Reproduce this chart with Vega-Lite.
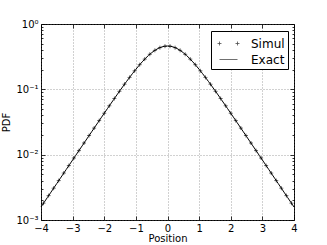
{
  "$schema": "https://vega.github.io/schema/vega-lite/v6.json",
  "width": 253,
  "height": 196,
  "autosize": {"type": "none"},
  "padding": {"left": 41, "top": 24, "right": 33, "bottom": 25},
  "background": "white",
  "config": {
    "view": {"stroke": "black", "strokeWidth": 1},
    "font": "DejaVu Sans",
    "axis": {
      "domain": false,
      "labelFont": "DejaVu Sans",
      "labelFontSize": 10,
      "labelColor": "black",
      "titleFont": "DejaVu Sans",
      "titleFontSize": 10,
      "titleFontWeight": "normal",
      "titleColor": "black",
      "tickColor": "black",
      "tickWidth": 0.8,
      "gridColor": "#666666",
      "gridDash": [1, 2],
      "gridWidth": 0.6
    }
  },
  "datasets": {
    "exact": [
      {"x": -4.0, "pdf": 0.001581, "series": "Exact"},
      {"x": -3.9, "pdf": 0.001866, "series": "Exact"},
      {"x": -3.8, "pdf": 0.002202, "series": "Exact"},
      {"x": -3.7, "pdf": 0.002599, "series": "Exact"},
      {"x": -3.6, "pdf": 0.003067, "series": "Exact"},
      {"x": -3.5, "pdf": 0.003621, "series": "Exact"},
      {"x": -3.4, "pdf": 0.004272, "series": "Exact"},
      {"x": -3.3, "pdf": 0.005043, "series": "Exact"},
      {"x": -3.2, "pdf": 0.005952, "series": "Exact"},
      {"x": -3.1, "pdf": 0.007023, "series": "Exact"},
      {"x": -3.0, "pdf": 0.008289, "series": "Exact"},
      {"x": -2.9, "pdf": 0.009779, "series": "Exact"},
      {"x": -2.8, "pdf": 0.01154, "series": "Exact"},
      {"x": -2.7, "pdf": 0.01361, "series": "Exact"},
      {"x": -2.6, "pdf": 0.01606, "series": "Exact"},
      {"x": -2.5, "pdf": 0.01894, "series": "Exact"},
      {"x": -2.4, "pdf": 0.02234, "series": "Exact"},
      {"x": -2.3, "pdf": 0.02633, "series": "Exact"},
      {"x": -2.2, "pdf": 0.03103, "series": "Exact"},
      {"x": -2.1, "pdf": 0.03656, "series": "Exact"},
      {"x": -2.0, "pdf": 0.04305, "series": "Exact"},
      {"x": -1.9, "pdf": 0.05066, "series": "Exact"},
      {"x": -1.8, "pdf": 0.05957, "series": "Exact"},
      {"x": -1.7, "pdf": 0.06995, "series": "Exact"},
      {"x": -1.6, "pdf": 0.08206, "series": "Exact"},
      {"x": -1.5, "pdf": 0.0961, "series": "Exact"},
      {"x": -1.4, "pdf": 0.1123, "series": "Exact"},
      {"x": -1.3, "pdf": 0.1309, "series": "Exact"},
      {"x": -1.2, "pdf": 0.1521, "series": "Exact"},
      {"x": -1.1, "pdf": 0.176, "series": "Exact"},
      {"x": -1.0, "pdf": 0.2026, "series": "Exact"},
      {"x": -0.9, "pdf": 0.2319, "series": "Exact"},
      {"x": -0.8, "pdf": 0.2634, "series": "Exact"},
      {"x": -0.7, "pdf": 0.2967, "series": "Exact"},
      {"x": -0.6, "pdf": 0.3306, "series": "Exact"},
      {"x": -0.5, "pdf": 0.3638, "series": "Exact"},
      {"x": -0.4, "pdf": 0.3948, "series": "Exact"},
      {"x": -0.3, "pdf": 0.4217, "series": "Exact"},
      {"x": -0.2, "pdf": 0.4425, "series": "Exact"},
      {"x": -0.1, "pdf": 0.4558, "series": "Exact"},
      {"x": 0.0, "pdf": 0.4603, "series": "Exact"},
      {"x": 0.1, "pdf": 0.4558, "series": "Exact"},
      {"x": 0.2, "pdf": 0.4425, "series": "Exact"},
      {"x": 0.3, "pdf": 0.4217, "series": "Exact"},
      {"x": 0.4, "pdf": 0.3948, "series": "Exact"},
      {"x": 0.5, "pdf": 0.3638, "series": "Exact"},
      {"x": 0.6, "pdf": 0.3306, "series": "Exact"},
      {"x": 0.7, "pdf": 0.2967, "series": "Exact"},
      {"x": 0.8, "pdf": 0.2634, "series": "Exact"},
      {"x": 0.9, "pdf": 0.2319, "series": "Exact"},
      {"x": 1.0, "pdf": 0.2026, "series": "Exact"},
      {"x": 1.1, "pdf": 0.176, "series": "Exact"},
      {"x": 1.2, "pdf": 0.1521, "series": "Exact"},
      {"x": 1.3, "pdf": 0.1309, "series": "Exact"},
      {"x": 1.4, "pdf": 0.1123, "series": "Exact"},
      {"x": 1.5, "pdf": 0.0961, "series": "Exact"},
      {"x": 1.6, "pdf": 0.08206, "series": "Exact"},
      {"x": 1.7, "pdf": 0.06995, "series": "Exact"},
      {"x": 1.8, "pdf": 0.05957, "series": "Exact"},
      {"x": 1.9, "pdf": 0.05066, "series": "Exact"},
      {"x": 2.0, "pdf": 0.04305, "series": "Exact"},
      {"x": 2.1, "pdf": 0.03656, "series": "Exact"},
      {"x": 2.2, "pdf": 0.03103, "series": "Exact"},
      {"x": 2.3, "pdf": 0.02633, "series": "Exact"},
      {"x": 2.4, "pdf": 0.02234, "series": "Exact"},
      {"x": 2.5, "pdf": 0.01894, "series": "Exact"},
      {"x": 2.6, "pdf": 0.01606, "series": "Exact"},
      {"x": 2.7, "pdf": 0.01361, "series": "Exact"},
      {"x": 2.8, "pdf": 0.01154, "series": "Exact"},
      {"x": 2.9, "pdf": 0.009779, "series": "Exact"},
      {"x": 3.0, "pdf": 0.008289, "series": "Exact"},
      {"x": 3.1, "pdf": 0.007023, "series": "Exact"},
      {"x": 3.2, "pdf": 0.005952, "series": "Exact"},
      {"x": 3.3, "pdf": 0.005043, "series": "Exact"},
      {"x": 3.4, "pdf": 0.004272, "series": "Exact"},
      {"x": 3.5, "pdf": 0.003621, "series": "Exact"},
      {"x": 3.6, "pdf": 0.003067, "series": "Exact"},
      {"x": 3.7, "pdf": 0.002599, "series": "Exact"},
      {"x": 3.8, "pdf": 0.002202, "series": "Exact"},
      {"x": 3.9, "pdf": 0.001866, "series": "Exact"},
      {"x": 4.0, "pdf": 0.001581, "series": "Exact"}
    ],
    "simul": [
      {"x": -3.92, "pdf": 0.001809, "series": "Simul"},
      {"x": -3.76, "pdf": 0.002361, "series": "Simul"},
      {"x": -3.60, "pdf": 0.003067, "series": "Simul"},
      {"x": -3.44, "pdf": 0.004012, "series": "Simul"},
      {"x": -3.28, "pdf": 0.005225, "series": "Simul"},
      {"x": -3.12, "pdf": 0.006809, "series": "Simul"},
      {"x": -2.96, "pdf": 0.008885, "series": "Simul"},
      {"x": -2.80, "pdf": 0.01154, "series": "Simul"},
      {"x": -2.64, "pdf": 0.01508, "series": "Simul"},
      {"x": -2.48, "pdf": 0.01962, "series": "Simul"},
      {"x": -2.32, "pdf": 0.02553, "series": "Simul"},
      {"x": -2.16, "pdf": 0.03324, "series": "Simul"},
      {"x": -2.00, "pdf": 0.04305, "series": "Simul"},
      {"x": -1.84, "pdf": 0.05601, "series": "Simul"},
      {"x": -1.68, "pdf": 0.07237, "series": "Simul"},
      {"x": -1.52, "pdf": 0.09329, "series": "Simul"},
      {"x": -1.36, "pdf": 0.1197, "series": "Simul"},
      {"x": -1.20, "pdf": 0.1521, "series": "Simul"},
      {"x": -1.04, "pdf": 0.192, "series": "Simul"},
      {"x": -0.88, "pdf": 0.2382, "series": "Simul"},
      {"x": -0.72, "pdf": 0.29, "series": "Simul"},
      {"x": -0.56, "pdf": 0.3439, "series": "Simul"},
      {"x": -0.40, "pdf": 0.3948, "series": "Simul"},
      {"x": -0.24, "pdf": 0.4342, "series": "Simul"},
      {"x": -0.08, "pdf": 0.4574, "series": "Simul"},
      {"x": 0.08, "pdf": 0.4574, "series": "Simul"},
      {"x": 0.24, "pdf": 0.4342, "series": "Simul"},
      {"x": 0.40, "pdf": 0.3948, "series": "Simul"},
      {"x": 0.56, "pdf": 0.3439, "series": "Simul"},
      {"x": 0.72, "pdf": 0.29, "series": "Simul"},
      {"x": 0.88, "pdf": 0.2382, "series": "Simul"},
      {"x": 1.04, "pdf": 0.192, "series": "Simul"},
      {"x": 1.20, "pdf": 0.1521, "series": "Simul"},
      {"x": 1.36, "pdf": 0.1197, "series": "Simul"},
      {"x": 1.52, "pdf": 0.09329, "series": "Simul"},
      {"x": 1.68, "pdf": 0.07237, "series": "Simul"},
      {"x": 1.84, "pdf": 0.05601, "series": "Simul"},
      {"x": 2.00, "pdf": 0.04305, "series": "Simul"},
      {"x": 2.16, "pdf": 0.03324, "series": "Simul"},
      {"x": 2.32, "pdf": 0.02553, "series": "Simul"},
      {"x": 2.48, "pdf": 0.01962, "series": "Simul"},
      {"x": 2.64, "pdf": 0.01508, "series": "Simul"},
      {"x": 2.80, "pdf": 0.01154, "series": "Simul"},
      {"x": 2.96, "pdf": 0.008885, "series": "Simul"},
      {"x": 3.12, "pdf": 0.006809, "series": "Simul"},
      {"x": 3.28, "pdf": 0.005225, "series": "Simul"},
      {"x": 3.44, "pdf": 0.004012, "series": "Simul"},
      {"x": 3.60, "pdf": 0.003067, "series": "Simul"},
      {"x": 3.76, "pdf": 0.002361, "series": "Simul"},
      {"x": 3.92, "pdf": 0.001809, "series": "Simul"}
    ],
    "legendkeys": []
  },
  "layer": [
    {
      "data": {"name": "simul"},
      "mark": {"type": "point", "shape": "M-1,0H1M0,-1V1", "filled": false, "stroke": "black", "strokeWidth": 0.6, "size": 16, "opacity": 1},
      "encoding": {
        "x": {
          "field": "x", "type": "quantitative",
          "scale": {"domain": [-4, 4], "nice": false, "zero": false},
          "axis": {
            "orient": "bottom",
            "values": [-4, -3, -2, -1, 0, 1, 2, 3, 4],
            "labelExpr": "replace(format(datum.value, 'd'), '-', '\u2212')",
            "tickSize": -4,
            "labelPadding": 7,
            "labelFlush": false,
            "labelOverlap": false,
            "grid": true,
            "title": "Position",
            "titlePadding": 0
          }
        },
        "y": {
          "field": "pdf", "type": "quantitative",
          "scale": {"type": "log", "domain": [0.001, 1], "nice": false},
          "axis": {
            "orient": "left",
            "values": [0.001, 0.002, 0.003, 0.004, 0.005, 0.006, 0.007, 0.008, 0.009, 0.01, 0.02, 0.03, 0.04, 0.05, 0.06, 0.07, 0.08, 0.09, 0.1, 0.2, 0.3, 0.4, 0.5, 0.6, 0.7, 0.8, 0.9, 1],
            "labelExpr": "datum.value == 1 ? '10\u2070' : datum.value == 0.1 ? '10\u207b\u00b9' : datum.value == 0.01 ? '10\u207b\u00b2' : datum.value == 0.001 ? '10\u207b\u00b3' : ''",
            "labelOverlap": false,
            "labelFlush": false,
            "tickSize": {"condition": {"test": "indexof([1, 0.1, 0.01, 0.001], datum.value) >= 0", "value": -4}, "value": -2},
            "labelPadding": 7,
            "grid": true,
            "gridOpacity": {"condition": {"test": "indexof([1, 0.1, 0.01, 0.001], datum.value) >= 0", "value": 1}, "value": 0},
            "title": "PDF",
            "titlePadding": 4
          }
        }
      }
    },
    {
      "data": {"name": "exact"},
      "mark": {"type": "line", "color": "black", "strokeWidth": 1},
      "encoding": {
        "x": {
          "field": "x", "type": "quantitative",
          "axis": {"orient": "top", "values": [-4, -3, -2, -1, 0, 1, 2, 3, 4], "labels": false, "title": null, "grid": false, "tickSize": -4}
        },
        "y": {
          "field": "pdf", "type": "quantitative",
          "axis": {
            "orient": "right",
            "values": [0.001, 0.002, 0.003, 0.004, 0.005, 0.006, 0.007, 0.008, 0.009, 0.01, 0.02, 0.03, 0.04, 0.05, 0.06, 0.07, 0.08, 0.09, 0.1, 0.2, 0.3, 0.4, 0.5, 0.6, 0.7, 0.8, 0.9, 1],
            "labels": false, "title": null, "grid": false,
            "tickSize": {"condition": {"test": "indexof([1, 0.1, 0.01, 0.001], datum.value) >= 0", "value": -4}, "value": -2}
          }
        }
      }
    },
    {
      "data": {"name": "legendkeys"},
      "mark": {"type": "point", "filled": false, "stroke": "black", "strokeWidth": 1},
      "encoding": {
        "shape": {
          "field": "series", "type": "nominal",
          "scale": {"domain": ["Simul", "Exact"], "range": ["M-1.22,0H-0.78M-1,-0.22V0.22M0.78,0H1.22M1,-0.22V0.22", "stroke"]},
          "legend": {
            "title": null,
            "orient": "none",
            "legendX": 170,
            "legendY": 7,
            "padding": 3,
            "symbolOffset": 5,
            "labelOffset": 13,
            "symbolSize": 324,
            "rowPadding": -1,
            "labelFont": "DejaVu Sans",
            "labelFontSize": 12,
            "labelColor": "black",
            "strokeColor": "black",
            "fillColor": "white",
            "cornerRadius": 0,
            "symbolStrokeColor": "black",
            "symbolFillColor": "transparent",
            "symbolStrokeWidth": 0.8
          }
        }
      }
    }
  ],
  "resolve": {"axis": {"x": "independent", "y": "independent"}}
}
